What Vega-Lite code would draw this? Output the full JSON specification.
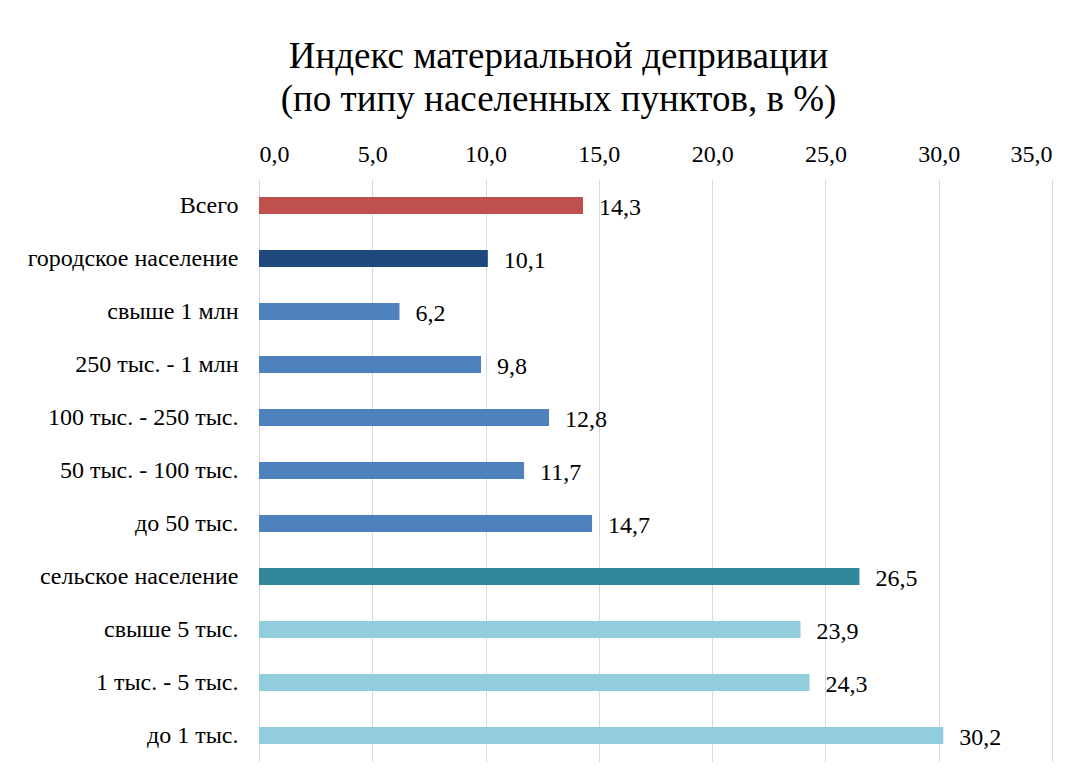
{
  "$schema": "https://vega.github.io/schema/vega-lite/v6.json",
  "width": 793,
  "height": 583,
  "padding": {"left": 27, "top": 38, "right": 10, "bottom": 10},
  "background": "white",
  "config": {
    "font": "Liberation Serif",
    "view": {"stroke": null},
    "locale": {"number": {"decimal": ",", "thousands": " ", "grouping": [3], "currency": ["", ""]}}
  },
  "title": {
    "text": ["Индекс материальной депривации", "(по типу населенных пунктов, в %)"],
    "font": "Liberation Serif",
    "fontSize": 37,
    "fontWeight": "normal",
    "color": "#000000",
    "lineHeight": 43,
    "anchor": "middle",
    "dx": -97,
    "offset": 23
  },
  "data": {
    "values": [
      {"cat": "Всего", "value": 14.3, "grp": "total"},
      {"cat": "городское население", "value": 10.1, "grp": "urban"},
      {"cat": "свыше 1 млн", "value": 6.2, "grp": "urbansub"},
      {"cat": "250 тыс. - 1 млн", "value": 9.8, "grp": "urbansub"},
      {"cat": "100 тыс. - 250 тыс.", "value": 12.8, "grp": "urbansub"},
      {"cat": "50 тыс. - 100 тыс.", "value": 11.7, "grp": "urbansub"},
      {"cat": "до 50 тыс.", "value": 14.7, "grp": "urbansub"},
      {"cat": "сельское население", "value": 26.5, "grp": "rural"},
      {"cat": "свыше 5 тыс.", "value": 23.9, "grp": "ruralsub"},
      {"cat": "1 тыс. - 5 тыс.", "value": 24.3, "grp": "ruralsub"},
      {"cat": "до 1 тыс.", "value": 30.2, "grp": "ruralsub"}
    ]
  },
  "encoding": {
    "y": {
      "field": "cat",
      "type": "nominal",
      "sort": null,
      "scale": {"paddingInner": 0.68, "paddingOuter": 0.34},
      "axis": {
        "title": null,
        "domain": false,
        "ticks": false,
        "grid": false,
        "labelFont": "Liberation Serif",
        "labelFontSize": 24,
        "labelColor": "#000000",
        "labelPadding": 21,
        "labelLimit": 400
      }
    },
    "x": {
      "field": "value",
      "type": "quantitative",
      "scale": {"domain": [0, 35], "nice": false},
      "axis": {
        "orient": "top",
        "title": null,
        "values": [0, 5, 10, 15, 20, 25, 30, 35],
        "format": ".1f",
        "domain": false,
        "ticks": false,
        "grid": true,
        "gridColor": "#D9D9D9",
        "gridWidth": 1,
        "labelFont": "Liberation Serif",
        "labelFontSize": 24,
        "labelColor": "#000000",
        "labelPadding": 13
      }
    }
  },
  "layer": [
    {
      "mark": {"type": "bar"},
      "encoding": {
        "color": {
          "field": "grp",
          "type": "nominal",
          "scale": {
            "domain": ["total", "urban", "urbansub", "rural", "ruralsub"],
            "range": ["#C0504D", "#1F497D", "#4F81BD", "#31859C", "#92CDDC"]
          },
          "legend": null
        }
      }
    },
    {
      "mark": {"type": "text", "align": "left", "dx": 16, "dy": 2, "font": "Liberation Serif", "fontSize": 24, "color": "#000000"},
      "encoding": {
        "text": {"field": "value", "type": "quantitative", "format": ".1f"}
      }
    }
  ]
}
